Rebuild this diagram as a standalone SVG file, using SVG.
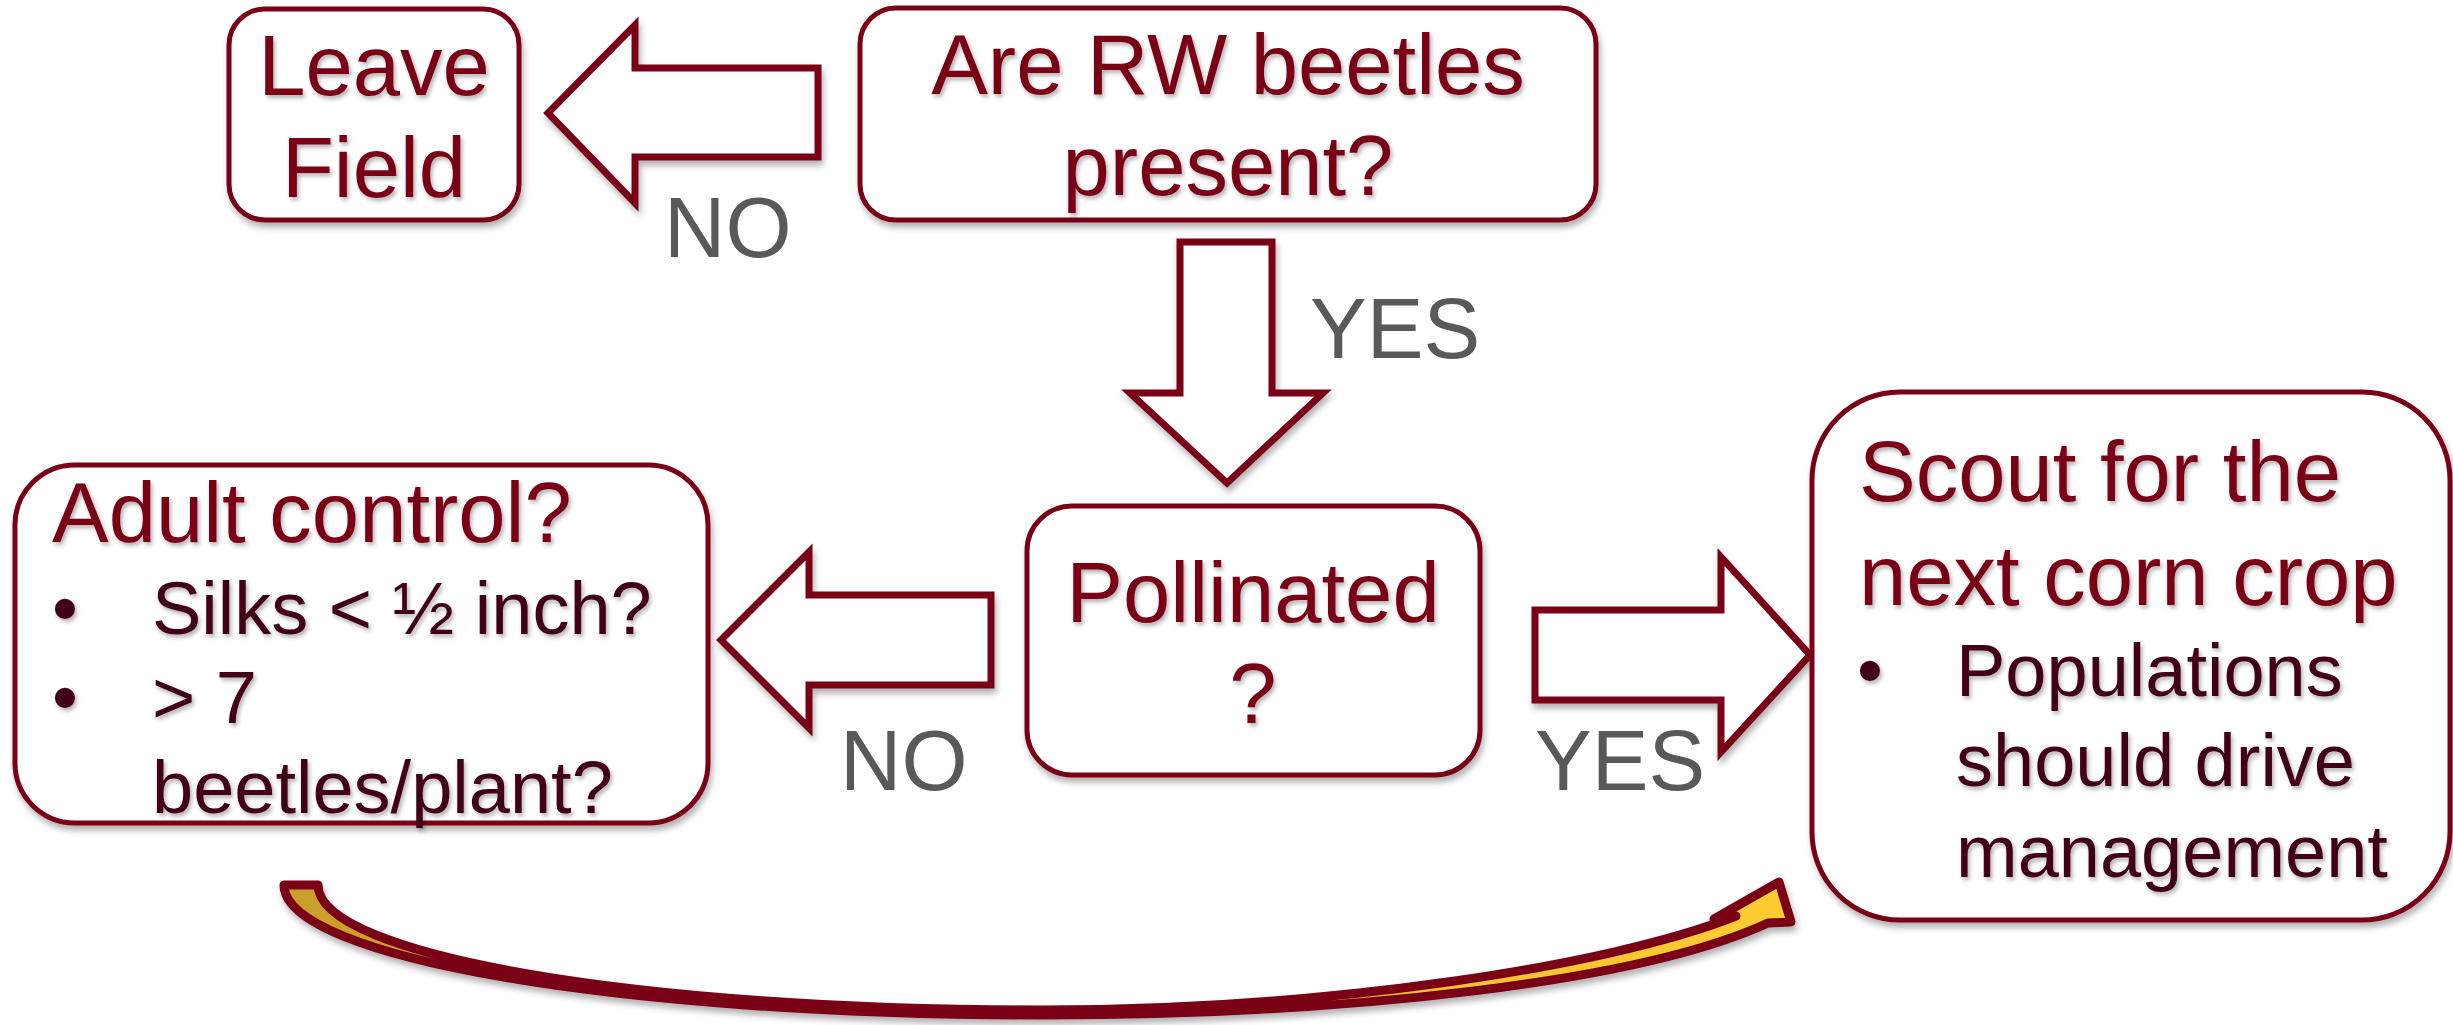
<svg xmlns="http://www.w3.org/2000/svg" width="2453" height="1025" viewBox="0 0 2453 1025">
<defs>
<style>
.box{fill:#fff;stroke:#7A0019;stroke-width:5;filter:url(#sh)}
.arr{fill:#fff;stroke:#7A0019;stroke-width:7;stroke-linejoin:miter;filter:url(#sh)}
.t{font-family:"Liberation Sans",Arial,Helvetica,sans-serif;font-size:85px;fill:#7A0019;filter:url(#tsh)}
.c{text-anchor:middle}
.b{font-family:"Liberation Sans",Arial,Helvetica,sans-serif;font-size:74px;fill:#420013;filter:url(#tsh)}
.lbl{font-family:"Liberation Sans",Arial,Helvetica,sans-serif;font-size:85px;fill:#595959}
</style>
<filter id="sh" x="-10%" y="-10%" width="125%" height="135%">
<feDropShadow dx="2" dy="5" stdDeviation="3" flood-color="#000" flood-opacity="0.3"/>
</filter>
<filter id="tsh" x="-5%" y="-10%" width="115%" height="140%">
<feDropShadow dx="2" dy="3" stdDeviation="2" flood-color="#000" flood-opacity="0.3"/>
</filter>
<linearGradient id="gold" x1="0" y1="0" x2="1" y2="0">
<stop offset="0" stop-color="#C99E2A"/>
<stop offset="1" stop-color="#FFCC33"/>
</linearGradient>
</defs>
<rect width="2453" height="1025" fill="#fff"/>

<g id="connectors">
<polygon id="arrow-no-top" class="arr" points="818,68 635,68 635,25 548,113 635,203 635,157 818,157"/>
<polygon id="arrow-yes-down" class="arr" points="1180,242 1272,242 1272,393 1323,393 1227,483 1130,393 1180,393"/>
<polygon id="arrow-no-mid" class="arr" points="991,595 809,595 809,552 721,640 809,728 809,685 991,685"/>
<polygon id="arrow-yes-right" class="arr" points="1535,610 1721,610 1721,557 1810,655 1721,752 1721,700 1535,700"/>
<path id="arrow-curved" d="M 284 885 C 284 958 622 1015 1040 1015 C 1350 1015 1640 982 1768 923 L 1791 922 L 1779 882 L 1714 919 L 1736 916 C 1610 966 1330 1010 1040 1010 C 640 1010 318 956 318 885 Z" fill="url(#gold)" stroke="#7A0019" stroke-width="9" stroke-linejoin="round" filter="url(#sh)"/>
<text class="lbl" x="664" y="257">NO</text>
<text class="lbl" x="1310" y="358">YES</text>
<text class="lbl" x="840" y="790">NO</text>
<text class="lbl" x="1535" y="790">YES</text>
</g>

<g id="node-leave">
<rect class="box" x="229" y="9" width="290" height="211" rx="36"/>
<text class="t c" x="374" y="95">Leave</text>
<text class="t c" x="374" y="197">Field</text>
</g>

<g id="node-present">
<rect class="box" x="860" y="8" width="736" height="212" rx="36"/>
<text class="t c" x="1228" y="94">Are RW beetles</text>
<text class="t c" x="1228" y="195">present?</text>
</g>

<g id="node-pollinated">
<rect class="box" x="1027" y="506" width="453" height="269" rx="45"/>
<text class="t c" x="1253" y="622">Pollinated</text>
<text class="t c" x="1253" y="723">?</text>
</g>

<g id="node-adult">
<rect class="box" x="15" y="465" width="693" height="358" rx="60"/>
<text class="t" x="52" y="542">Adult control?</text>
<text class="b" x="52" y="634">•</text>
<text class="b" x="152" y="634">Silks &lt; ½ inch?</text>
<text class="b" x="52" y="723">•</text>
<text class="b" x="152" y="723">&gt; 7</text>
<text class="b" x="152" y="813">beetles/plant?</text>
</g>

<g id="node-scout">
<rect class="box" x="1812" y="392" width="638" height="528" rx="88"/>
<text class="t" x="1859" y="501">Scout for the</text>
<text class="t" x="1859" y="605">next corn crop</text>
<text class="b" x="1857" y="696">•</text>
<text class="b" x="1956" y="696">Populations</text>
<text class="b" x="1956" y="786">should drive</text>
<text class="b" x="1956" y="877">management</text>
</g>
</svg>
